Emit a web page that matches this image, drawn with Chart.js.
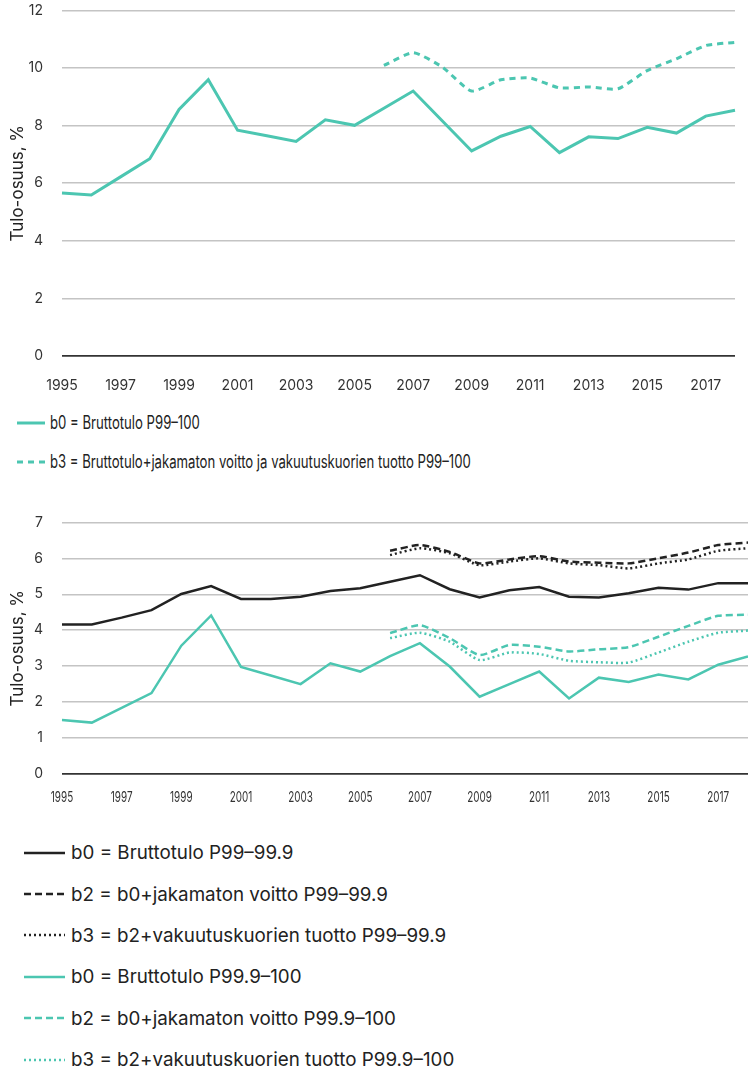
<!DOCTYPE html>
<html lang="fi">
<head>
<meta charset="utf-8">
<title>Tulo-osuus</title>
<script src="https://cdn.jsdelivr.net/npm/chart.js@4.4.1/dist/chart.umd.min.js"></script>
<style>
    body { margin: 0; background: #fff; font-family: Inter, 'Noto Sans', sans-serif; color: #222; }
    #page { position: relative; width: 748px; height: 1072px; overflow: hidden; }
    canvas { position: absolute; left: 0; }
    /* canvases start a bit above their plot so the y tick padding lands the grid where it should */
    #chart-top { top: -17px; }
    #chart-bottom { top: 495px; }
    .legend { position: absolute; left: 0; margin: 0; padding: 0; list-style: none; }
    .legend li { display: flex; align-items: center; white-space: nowrap; }
    .legend svg { flex: none; }
    #legend-top { top: 403px; }
    #legend-top li { height: 39px; padding-left: 17px; font-size: 18px; }
    #legend-top span { display: inline-block; margin-left: 5px; transform: scaleX(0.73); transform-origin: left center; }
    #legend-bottom { top: 832px; }
    #legend-bottom li { height: 41.4px; padding-left: 24px; font-size: 18.8px; }
    #legend-bottom span { margin-left: 6px; }
</style>
</head>
<body>
<div id="page">
    <canvas id="chart-top" width="748" height="417"></canvas>
    <ul class="legend" id="legend-top"></ul>
    <canvas id="chart-bottom" width="748" height="310"></canvas>
    <ul class="legend" id="legend-bottom"></ul>
</div>
<script>
// Years on the x axis (labels shown for odd years only)
const years = [1995, 1996, 1997, 1998, 1999, 2000, 2001, 2002, 2003, 2004, 2005, 2006,
               2007, 2008, 2009, 2010, 2011, 2012, 2013, 2014, 2015, 2016, 2017, 2018];

// Top chart: P99-100
const topB0 = [5.66, 5.59, 6.22, 6.85, 8.56, 9.59, 7.84, 7.65, 7.45, 8.20, 8.01, 8.60,
               9.20, 8.16, 7.12, 7.63, 7.97, 7.06, 7.61, 7.55, 7.94, 7.74, 8.33, 8.53];
const topB3 = [null, null, null, null, null, null, null, null, null, null, null, 10.09,
               10.53, 10.03, 9.20, 9.59, 9.65, 9.31, 9.34, 9.28, 9.91, 10.32, 10.78, 10.89];

// Bottom chart: P99-99.9
const midB0 = [4.16, 4.16, 4.35, 4.56, 5.01, 5.23, 4.87, 4.87, 4.93, 5.09, 5.17, 5.35,
               5.53, 5.14, 4.91, 5.11, 5.20, 4.93, 4.91, 5.03, 5.18, 5.13, 5.31, 5.31];
const midB2 = [null, null, null, null, null, null, null, null, null, null, null, 6.21,
               6.37, 6.18, 5.86, 5.97, 6.06, 5.91, 5.88, 5.86, 6.00, 6.16, 6.37, 6.44];
const midB3 = [null, null, null, null, null, null, null, null, null, null, null, 6.09,
               6.28, 6.14, 5.81, 5.91, 6.00, 5.86, 5.81, 5.72, 5.86, 5.97, 6.21, 6.28];

// Bottom chart: P99.9-100
const richB0 = [1.50, 1.43, 1.84, 2.25, 3.57, 4.41, 2.98, 2.74, 2.50, 3.08, 2.85, 3.28,
                3.64, 2.99, 2.15, 2.50, 2.85, 2.10, 2.68, 2.56, 2.77, 2.63, 3.04, 3.27];
const richB2 = [null, null, null, null, null, null, null, null, null, null, null, 3.92,
                4.14, 3.78, 3.31, 3.59, 3.54, 3.41, 3.47, 3.53, 3.82, 4.12, 4.40, 4.43];
const richB3 = [null, null, null, null, null, null, null, null, null, null, null, 3.78,
                3.93, 3.68, 3.17, 3.38, 3.34, 3.15, 3.11, 3.10, 3.38, 3.68, 3.93, 3.99];

const TEAL = '#4cc6b1';
const DARK = '#222222';
const FONT = 'Inter, "Noto Sans", sans-serif';

// Build a line dataset
function line(label, data, color, width, dash, tension) {
    return {
        label: label,
        data: data,
        borderColor: color,
        backgroundColor: color,
        borderWidth: width,
        borderDash: dash,
        tension: tension,
        pointRadius: 0,
        fill: false
    };
}

// Shared axis options; xHeight and yMax differ per chart
function axes(yMax, step, xHeight, tickPadding, showXTicks) {
    return {
        x: {
            grid: { display: false },
            border: { display: false },
            ticks: {
                display: showXTicks,
                autoSkip: false,
                maxRotation: 0,
                padding: tickPadding,
                color: '#333',
                font: { family: FONT, size: 14 },
                callback: function(value) {
                    const year = Number(this.getLabelForValue(value));
                    return year % 2 === 1 ? String(year) : '';
                }
            },
            afterFit: (scale) => { scale.height = xHeight; }
        },
        y: {
            min: 0,
            max: yMax,
            border: { display: false },
            grid: {
                drawTicks: false,
                color: (c) => (c.tick && c.tick.value === 0 ? '#333' : '#c4c4c4'),
                lineWidth: (c) => (c.tick && c.tick.value === 0 ? 1.8 : 1.5)
            },
            ticks: {
                stepSize: step,
                padding: 19,
                color: '#333',
                font: { family: FONT, size: 14 }
            },
            title: {
                display: true,
                text: 'Tulo-osuus, %',
                color: '#222',
                padding: { top: 8, bottom: 0 },
                font: { family: FONT, size: 17 }
            },
            afterFit: (scale) => { scale.width = 62; }
        }
    };
}

// Draw the bottom chart's year labels horizontally squeezed, as in the source picture
const condensedYears = {
    id: 'condensedYears',
    afterDraw(chart) {
        const scale = chart.scales.x;
        const ctx = chart.ctx;
        ctx.save();
        ctx.font = '15px ' + FONT;
        ctx.fillStyle = '#333';
        ctx.textAlign = 'center';
        ctx.textBaseline = 'middle';
        scale.ticks.forEach((tick, i) => {
            const year = years[i];
            if (year % 2 === 0) return;
            ctx.save();
            ctx.translate(scale.getPixelForTick(i), scale.top + 23.5);
            ctx.scale(0.66, 1);
            ctx.fillText(String(year), 0, 0);
            ctx.restore();
        });
        ctx.restore();
    }
};

// HTML legend built from the datasets of a chart
function renderLegend(chart, listId, sampleWidth, lineWidth) {
    const list = document.getElementById(listId);
    chart.data.datasets.forEach(ds => {
        const li = document.createElement('li');
        const dash = (ds.borderDash || []).join(' ');
        li.innerHTML = `<svg width="${sampleWidth}" height="8"><line x1="0" y1="4" x2="${sampleWidth}" y2="4" stroke="${ds.borderColor}" stroke-width="${lineWidth}" stroke-dasharray="${dash}"/></svg><span>${ds.label}</span>`;
        list.appendChild(li);
    });
}

function init() {
    const topChart = new Chart(document.getElementById('chart-top'), {
        type: 'line',
        data: {
            labels: years,
            datasets: [
                line('b0 = Bruttotulo P99\u2013100', topB0, TEAL, 3, [], 0),
                line('b3 = Bruttotulo+jakamaton voitto ja vakuutuskuorien tuotto P99\u2013100', topB3, TEAL, 3, [6, 5], 0.2)
            ]
        },
        options: {
            responsive: false,
            animation: false,
            layout: { padding: 0 },
            plugins: { legend: { display: false }, tooltip: { enabled: false } },
            scales: axes(12, 2, 44, 13, true)
        }
    });

    const bottomChart = new Chart(document.getElementById('chart-bottom'), {
        type: 'line',
        data: {
            labels: years,
            datasets: [
                line('b0 = Bruttotulo P99\u201399.9', midB0, DARK, 2.5, [], 0),
                line('b2 = b0+jakamaton voitto P99\u201399.9', midB2, DARK, 2.5, [7, 4], 0.2),
                line('b3 = b2+vakuutuskuorien tuotto P99\u201399.9', midB3, DARK, 2.5, [2, 3], 0.2),
                line('b0 = Bruttotulo P99.9\u2013100', richB0, TEAL, 2.5, [], 0),
                line('b2 = b0+jakamaton voitto P99.9\u2013100', richB2, TEAL, 2.5, [7, 4], 0.2),
                line('b3 = b2+vakuutuskuorien tuotto P99.9\u2013100', richB3, TEAL, 2.5, [2, 3], 0.2)
            ]
        },
        options: {
            responsive: false,
            animation: false,
            layout: { padding: 0 },
            plugins: { legend: { display: false }, tooltip: { enabled: false } },
            scales: axes(7, 1, 31, 16, false)
        },
        plugins: [condensedYears]
    });

    renderLegend(topChart, 'legend-top', 28, 3);
    renderLegend(bottomChart, 'legend-bottom', 41, 2.5);
}

document.addEventListener('DOMContentLoaded', init);
</script>
</body>
</html>
